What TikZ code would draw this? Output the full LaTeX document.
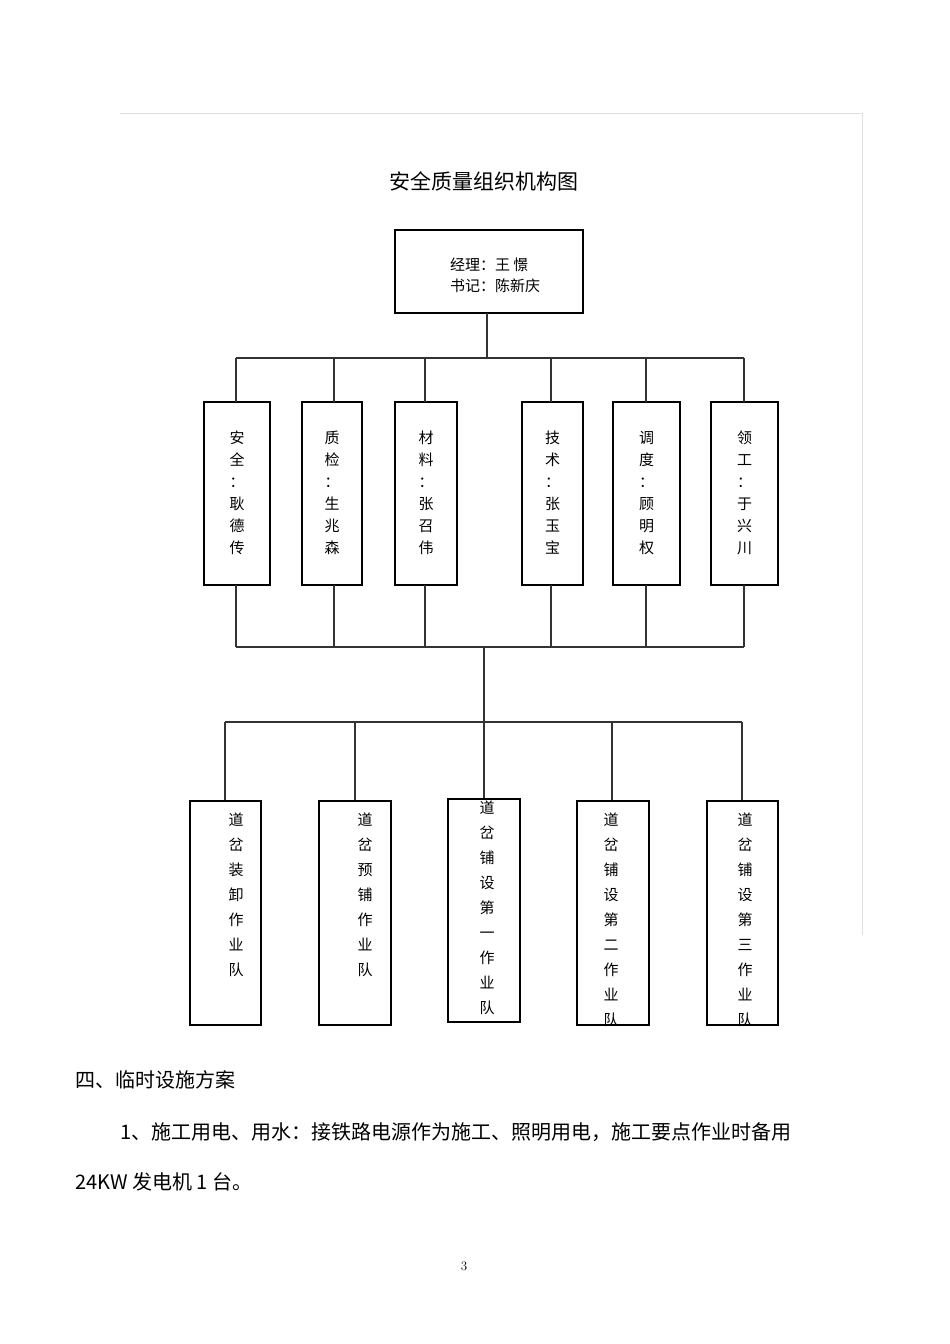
\documentclass[tikz,border=0pt]{standalone}
\usepackage{fontspec}
\newfontfamily\cjk{Noto Sans CJK SC}
\begin{document}
\begin{tikzpicture}[x=1pt,y=-1pt,
  bx/.style={draw,line width=1.2pt,fill=white},
  ln/.style={line width=1.1pt,draw=black!80},
  vt/.style={font=\cjk\fontsize{15}{22}\selectfont,align=center,anchor=north,inner sep=0pt},
  vb/.style={font=\cjk\fontsize{15}{25}\selectfont,align=center,anchor=north,inner sep=0pt},
  pt/.style={font=\cjk\fontsize{20}{24}\selectfont,anchor=west,inner sep=0pt}]
\useasboundingbox[fill=white] (0,0) rectangle (950,1344);
\draw[black!12] (120,113) -- (862,113) -- (862,935);
\node[font=\cjk\fontsize{21}{24}\selectfont] (title) at (484,181) {安全质量组织机构图};
% top box
\draw[bx] (395,230) rectangle (583,313);
\node[font=\cjk\fontsize{15}{21}\selectfont,align=left] (mgr) at (495,275) {经理：王\ 憬\\书记：陈新庆};
\coordinate (t0) at (487,313); \coordinate (t1) at (487,358);
\draw[ln] (t0) -- (t1);
\draw[ln] (236,358) -- (744,358);
% row 2
\foreach \xa/\xb/\t/\n in {204/270/安\\全\\：\\耿\\德\\传/a, 302/362/质\\检\\：\\生\\兆\\森/b, 395/457/材\\料\\：\\张\\召\\伟/c, 522/583/技\\术\\：\\张\\玉\\宝/d, 613/680/调\\度\\：\\顾\\明\\权/e, 711/778/领\\工\\：\\于\\兴\\川/f}{
  \draw[bx] (\xa,402) rectangle (\xb,585);
  \node[vt] (\n) at ({(\xa+\xb)/2},431) {\t};
}
\foreach \x in {236,334,425,551,646,744}{
  \draw[ln] (\x,358) -- (\x,402);
  \draw[ln] (\x,585) -- (\x,647);
}
\draw[ln] (236,647) -- (744,647);
\draw[ln] (484,647) -- (484,722);
\draw[ln] (225,722) -- (742,722);
\foreach \x in {225,355,484,612,742}{ \draw[ln] (\x,722) -- (\x,801); }
% bottom boxes
\draw[bx] (190,801) rectangle (261,1025);
\draw[bx] (319,801) rectangle (391,1025);
\draw[bx] (448,799) rectangle (520,1022);
\draw[bx] (577,801) rectangle (649,1025);
\draw[bx] (707,801) rectangle (778,1025);
\node[vb] (q1) at (236,813) {道\\岔\\装\\卸\\作\\业\\队};
\node[vb] (q2) at (365,813) {道\\岔\\预\\铺\\作\\业\\队};
\node[vb] (q3) at (487,801) {道\\岔\\铺\\设\\第\\一\\作\\业\\队};
\node[vb] (q4) at (611,813) {道\\岔\\铺\\设\\第\\二\\作\\业\\队};
\node[vb] (q5) at (745,813) {道\\岔\\铺\\设\\第\\三\\作\\业\\队};
% page text
\node[pt] (p1) at (75,1080) {四、临时设施方案};
\node[pt] (p2) at (120,1132) {1、施工用电、用水：接铁路电源作为施工、照明用电，施工要点作业时备用};
\node[pt] (p3) at (75,1182) {24KW 发电机 1 台。};
\node[font=\fontsize{13}{15}\selectfont] (pg) at (464,1266) {3};
\end{tikzpicture}
\end{document}
